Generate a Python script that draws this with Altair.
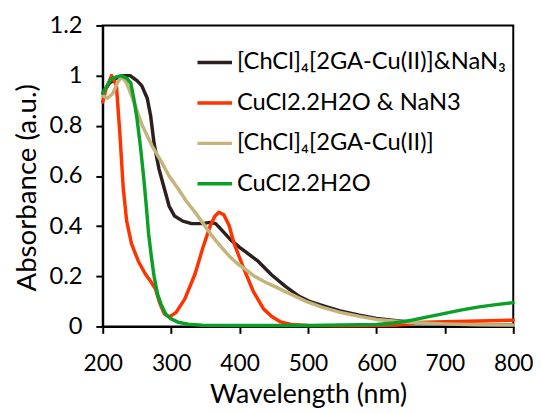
import altair as alt
import pandas as pd

# Series names (legend order)
s_black = "[ChCl]\u2084[2GA-Cu(II)]&NaN\u2083"
s_red = "CuCl2.2H2O & NaN3"
s_tan = "[ChCl]\u2084[2GA-Cu(II)]"
s_green = "CuCl2.2H2O"
series_order = [s_black, s_red, s_tan, s_green]
series_colors = ["#2b1f1f", "#ff3300", "#c4b47a", "#0aa028"]

black_wl = [200, 210, 220, 230, 240, 250, 257, 265, 270, 275, 282, 290, 297, 305, 317, 330, 345, 357, 365, 372, 387, 400, 410, 427, 447, 467, 487, 502, 525, 547, 575, 600, 650, 700, 750, 800]
black_abs = [0.93, 0.97, 0.99, 1.0, 1.0, 0.98, 0.96, 0.91, 0.84, 0.73, 0.63, 0.55, 0.48, 0.44, 0.42, 0.41, 0.41, 0.415, 0.41, 0.39, 0.345, 0.315, 0.295, 0.26, 0.205, 0.16, 0.12, 0.10, 0.08, 0.062, 0.045, 0.032, 0.017, 0.010, 0.007, 0.006]

red_wl = [200, 205, 213, 220, 225, 230, 235, 242, 252, 262, 270, 277, 283, 290, 297, 307, 320, 335, 347, 357, 364, 370, 377, 385, 392, 407, 420, 435, 447, 460, 475, 500, 550, 600, 630, 650, 660, 700, 750, 800]
red_abs = [0.895, 0.95, 1.0, 0.96, 0.77, 0.55, 0.42, 0.33, 0.26, 0.21, 0.18, 0.15, 0.095, 0.05, 0.038, 0.055, 0.11, 0.21, 0.32, 0.40, 0.44, 0.455, 0.445, 0.40, 0.33, 0.225, 0.14, 0.07, 0.04, 0.018, 0.008, 0.004, 0.003, 0.004, 0.006, 0.010, 0.016, 0.019, 0.022, 0.025]

tan_wl = [200, 207, 215, 222, 228, 235, 242, 250, 258, 265, 272, 285, 297, 310, 322, 335, 347, 360, 372, 385, 397, 410, 422, 435, 447, 470, 497, 520, 547, 575, 600, 650, 700, 750, 800]
tan_abs = [0.92, 0.91, 0.93, 0.975, 0.995, 0.97, 0.92, 0.86, 0.80, 0.76, 0.72, 0.66, 0.60, 0.55, 0.50, 0.455, 0.41, 0.36, 0.32, 0.28, 0.25, 0.225, 0.20, 0.18, 0.165, 0.135, 0.10, 0.077, 0.056, 0.04, 0.028, 0.016, 0.010, 0.007, 0.006]

green_wl = [200, 212, 220, 227, 235, 241, 246, 250, 255, 260, 264, 267, 271, 275, 280, 285, 292, 300, 310, 325, 345, 400, 500, 600, 625, 650, 675, 700, 725, 750, 775, 800]
green_abs = [0.93, 0.985, 0.995, 1.0, 0.99, 0.97, 0.9, 0.83, 0.72, 0.59, 0.47, 0.37, 0.28, 0.2, 0.13, 0.09, 0.05, 0.03, 0.017, 0.009, 0.005, 0.004, 0.004, 0.008, 0.014, 0.024, 0.038, 0.052, 0.066, 0.078, 0.087, 0.095]

x_ticks = [200, 300, 400, 500, 600, 700, 800]
y_ticks = [0, 0.2, 0.4, 0.6, 0.8, 1.0, 1.2]

rows = []
for name, wl, ab in [(s_black, black_wl, black_abs), (s_red, red_wl, red_abs),
                     (s_tan, tan_wl, tan_abs), (s_green, green_wl, green_abs)]:
    for w, a in zip(wl, ab):
        rows.append({"series": name, "wl": w, "abs": a})
df = pd.DataFrame(rows)

FONT = "Lato"

chart = alt.Chart(df).mark_line(strokeWidth=3.5, strokeJoin="round", strokeCap="round").encode(
    x=alt.X("wl:Q", scale=alt.Scale(domain=[200, 800], nice=False, zero=False),
            axis=alt.Axis(values=x_ticks, title="Wavelength (nm)", grid=False,
                          tickSize=7, tickWidth=2, tickColor="black",
                          domainColor="black", domainWidth=2,
                          labelFontSize=23, labelColor="black", labelFont=FONT,
                          labelPadding=20, labelFlush=False,
                          titleFontSize=27, titleFont=FONT, titleFontWeight="normal",
                          titleColor="black", titlePadding=6)),
    y=alt.Y("abs:Q", scale=alt.Scale(domain=[0, 1.2], nice=False),
            axis=alt.Axis(values=y_ticks, format=".1~f", title="Absorbance (a.u.)", grid=False,
                          tickSize=7, tickWidth=2, tickColor="black",
                          domainColor="black", domainWidth=2,
                          labelFontSize=24, labelColor="black", labelFont=FONT,
                          labelPadding=14, labelFlush=False,
                          titleFontSize=28, titleFont=FONT, titleFontWeight="normal",
                          titleColor="black", titlePadding=8, titleY=164)),
    color=alt.Color("series:N", sort=series_order,
                    scale=alt.Scale(domain=series_order, range=series_colors),
                    legend=alt.Legend(title=None, orient="none", legendX=94, legendY=18,
                                      symbolType="stroke", symbolSize=1225, symbolStrokeWidth=3.5,
                                      labelFontSize=24, labelFont=FONT, labelColor="black",
                                      labelOffset=3, rowPadding=9, padding=0,
                                      labelLimit=400)),
).properties(
    width=416, height=305,
    autosize=alt.AutoSizeParams(type="none"),
    padding={"left": 96, "top": 15, "right": 20, "bottom": 84},
).configure_view(stroke="black", strokeWidth=2)

chart.save("out.html", embed_options={"renderer": "svg", "actions": False})
